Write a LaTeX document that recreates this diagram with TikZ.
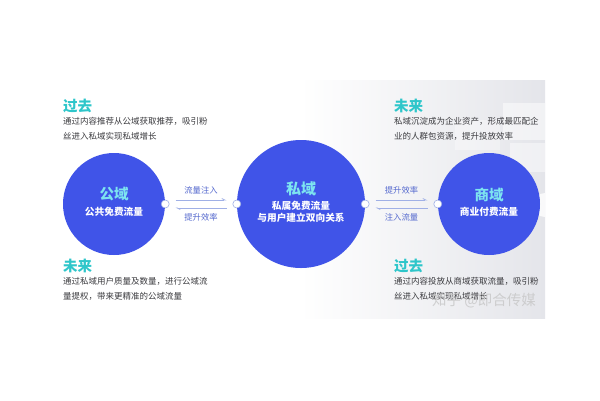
\documentclass[tikz,border=0pt]{standalone}
\usepackage{fontspec}
\setmainfont{Noto Sans CJK SC}
\usetikzlibrary{arrows.meta}
\definecolor{cblue}{RGB}{64,84,232}
\definecolor{cteal}{RGB}{46,198,202}
\definecolor{clight}{RGB}{125,228,240}
\definecolor{cbody}{RGB}{58,58,62}
\definecolor{clabel}{RGB}{84,104,206}
\definecolor{cline}{RGB}{160,176,230}
\definecolor{cpanel}{RGB}{228,229,234}
\tikzset{
  x=1pt, y=-1pt,
  domcirc/.style={circle, fill=cblue, inner sep=0pt},
  domhead/.style={inner sep=0pt, font=\fontsize{14.5}{17}\selectfont\bfseries, text=clight},
  domsub/.style={inner sep=0pt, align=center, font=\fontsize{9.7}{12.5}\selectfont\bfseries, text=white},
  dotnode/.style={circle, fill=white, draw=cline, line width=0.6pt, minimum size=8pt, inner sep=0pt},
  heading/.style={anchor=west, inner sep=0pt, font=\fontsize{14.5}{17}\selectfont\bfseries, text=cteal},
  bodytext/.style={anchor=north west, inner sep=0pt, align=left, font=\fontsize{8.5}{15}\selectfont, text=cbody},
  flowarrow/.style={draw=cline, line width=0.8pt, -{Straight Barb[harpoon,left,length=3pt,width=3pt]}},
  flowlabel/.style={inner sep=0pt, font=\fontsize{8.3}{10}\selectfont, text=clabel},
}
\begin{document}
\begin{tikzpicture}
\useasboundingbox (0,0) rectangle (600,400);
\fill[white] (0,0) rectangle (600,400);
% background panel
\shade[left color=white, right color=cpanel, shading angle=90] (300,80) rectangle (545,318);
\fill[white, opacity=0.5] (503,103) rectangle (545,140);
\fill[white, opacity=0.45] (510,143) rectangle (545,172);
\fill[white, opacity=0.35] (455,120) rectangle (500,150);
\fill[white, opacity=0.8] (545,217) arc[start angle=90, end angle=270, radius=12] -- cycle;
% circles
\node[domcirc, minimum size=102pt] (pub) at (114,204) {};
\node[domcirc, minimum size=128pt] (priv) at (301,204) {};
\node[domcirc, minimum size=102pt] (biz) at (489,204) {};
\node[domhead] (pubH) at ([yshift=10pt]pub.center) {公域};
\node[domsub] (pubS) at ([yshift=-8pt]pub.center) {公共免费流量};
\node[domhead, font=\fontsize{15}{18}\selectfont\bfseries] (privH) at ([yshift=15pt]priv.center) {私域};
\node[domsub] (privS) at ([yshift=-8pt]priv.center) {私属免费流量\\与用户建立双向关系};
\node[domhead] (bizH) at ([yshift=9pt]biz.center) {商域};
\node[domsub] (bizS) at ([yshift=-8pt]biz.center) {商业付费流量};
% dots
\node[dotnode] (pubR) at (pub.east) {};
\node[dotnode] (privL) at (priv.west) {};
\node[dotnode] (privR) at (priv.east) {};
\node[dotnode] (bizL) at (biz.west) {};
% connectors
\draw[flowarrow] ([xshift=6pt,yshift=4pt]pubR.east) -- node[flowlabel, above=5pt] {流量注入} ([xshift=-6pt,yshift=4pt]privL.west);
\draw[flowarrow] ([xshift=-6pt,yshift=-4pt]privL.west) -- node[flowlabel, below=5pt] {提升效率} ([xshift=6pt,yshift=-4pt]pubR.east);
\draw[flowarrow] ([xshift=6pt,yshift=4pt]privR.east) -- node[flowlabel, above=5pt] {提升效率} ([xshift=-6pt,yshift=4pt]bizL.west);
\draw[flowarrow] ([xshift=-6pt,yshift=-4pt]bizL.west) -- node[flowlabel, below=5pt] {注入流量} ([xshift=6pt,yshift=-4pt]privR.east);
% text blocks
\node[heading] (h1) at (63,106) {过去};
\node[bodytext] (b1) at (63,117) {通过内容推荐从公域获取推荐，吸引粉\\丝进入私域实现私域增长};
\node[heading] (h2) at (394,106) {未来};
\node[bodytext] (b2) at (394,117) {私域沉淀成为企业资产，形成最匹配企\\业的人群包资源，提升投放效率};
\node[heading] (h3) at (63,266) {未来};
\node[bodytext] (b3) at (63,277) {通过私域用户质量及数量，进行公域流\\量提权，带来更精准的公域流量};
\node[heading] (h4) at (394,266) {过去};
\node[bodytext] (b4) at (394,277) {通过内容投放从商域获取流量，吸引粉\\丝进入私域实现私域增长};
% watermark
\node[inner sep=0pt, text=gray!45, opacity=0.8, font=\fontsize{14.5}{17}\selectfont] (wm) at (484,301) {知乎 @即合传媒};
\end{tikzpicture}
\end{document}
